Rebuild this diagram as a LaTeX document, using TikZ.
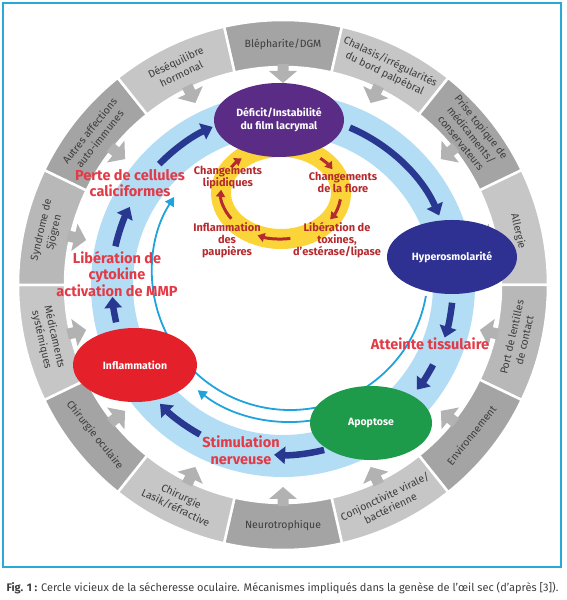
\documentclass[tikz,border=0pt]{standalone}
\usepackage{fontspec}
\setmainfont{Fira Sans}
\usetikzlibrary{arrows.meta,shapes.geometric,calc}
\definecolor{cviolet}{HTML}{5B2C86}
\definecolor{cmarine}{HTML}{2E3192}
\definecolor{cvert}{HTML}{1D9A4A}
\definecolor{crouge}{HTML}{E4202A}
\definecolor{ctexte}{HTML}{E23A47}
\definecolor{cbrique}{HTML}{B42A2E}
\definecolor{cfleche}{HTML}{283891}
\definecolor{cbande}{HTML}{B3DDF4}
\definecolor{cfil}{HTML}{1EA3DC}
\definecolor{cjaune}{HTML}{FBD43A}
\definecolor{cgrisf}{HTML}{A4A4A4}
\definecolor{cgrism}{HTML}{B8B8B8}
\definecolor{cgrisc}{HTML}{C6C6C6}
\definecolor{cflgris}{HTML}{B2B2B2}
\definecolor{cgtexte}{HTML}{3D3D3D}
\definecolor{ccadre}{HTML}{2AA8D8}
\tikzset{
  bulle/.style={ellipse, inner sep=0pt, minimum width=130pt, minimum height=74pt,
    text=white, align=center, font=\fontsize{10.5}{12.5}\selectfont\bfseries},
  etq/.style={text=ctexte, align=center, font=\fontsize{14.5}{16.5}\selectfont\bfseries},
  etqj/.style={text=cbrique, align=center, font=\fontsize{11}{12}\selectfont\bfseries},
  segtxt/.style={text=cgtexte, align=center, font=\fontsize{10.5}{13}\selectfont},
  fleche/.style={cfleche, line width=6.5pt, -{Triangle[width=17pt,length=11pt]}},
  flechej/.style={cbrique, line width=3pt, -{Triangle[width=9pt,length=7pt]}},
  fil/.style={cfil, line width=1.8pt, -{Triangle[width=10pt,length=9pt]}},
}

\begin{document}
\begin{tikzpicture}[x=1pt,y=1pt]
  \useasboundingbox (0,0) rectangle (566,600);
  \draw[ccadre, line width=2pt] (3,33) rectangle (561,597);
  \coordinate (C) at (283,315);
  \coordinate (A0) at (290,328);
  \coordinate (Y) at (281,407);

  % anneau des causes
  \foreach \a/\coul/\txt [count=\i] in {
      90/cgrisf/{Blépharite/DGM},
      64.286/cgrisc/{Chalasis/irrégularités\\du bord palpébral},
      38.571/cgrisf/{Prise topique de\\médicaments/\\conservateurs},
      12.857/cgrisc/{Allergie},
      -12.857/cgrism/{Port de lentilles\\de contact},
      -38.571/cgrisf/{Environnement},
      -64.286/cgrisc/{Conjonctivite virale/\\bactérienne},
      -90/cgrisf/{Neurotrophique},
      -115.714/cgrisc/{Chirurgie\\Lasik/réfractive},
      -141.429/cgrisf/{Chirurgie oculaire},
      -167.143/cgrisc/{Médicaments\\systémiques},
      167.143/cgrism/{Syndrome de\\Sjögren},
      141.429/cgrisf/{Autres affections\\auto-immunes},
      115.714/cgrisc/{Déséquilibre\\hormonal}} {
    \pgfmathsetmacro{\rot}{\a>0 ? \a-90 : \a+90}
    \filldraw[fill=\coul, draw=white, line width=2.5pt]
      ($(C)+(\a-12.857:265)$) arc[start angle=\a-12.857, end angle=\a+12.857, radius=265]
      -- ($(C)+(\a+12.857:218)$) arc[start angle=\a+12.857, end angle=\a-12.857, radius=218] -- cycle;
    \fill[cflgris, shift={(C)}, rotate=\a]
      (221,-5.5) -- (214,-5.5) -- (214,-14) -- (202,0) -- (214,14) -- (214,5.5) -- (221,5.5) -- cycle;
    \node[segtxt, rotate=\rot] (seg\i) at ($(C)+(\a:241)$) {\txt};
  }

  % bande du cercle vicieux
  \draw[cbande, line width=42pt] (C) circle[radius=171];

  % liens fins
  \draw[fil] ($(A0)+(-10:138)$) arc[start angle=-10, end angle=-213, radius=138];
  \draw[fil] ($(A0)+(-80:150)$) arc[start angle=-80, end angle=-128, radius=150];

  % fleches du cercle
  \draw[fleche] ($(C)+(67:171)$) arc[start angle=67, end angle=24, radius=171];
  \draw[fleche] ($(C)+(-6:170)$) arc[start angle=-6, end angle=-18, radius=170];
  \draw[fleche] ($(C)+(-28:170)$) arc[start angle=-28, end angle=-38, radius=170];
  \draw[fleche] ($(C)+(-76:170)$) arc[start angle=-76, end angle=-93, radius=170];
  \draw[fleche] ($(C)+(-119:171)$) arc[start angle=-119, end angle=-136, radius=171];
  \draw[fleche] ($(C)+(192.6:171)$) arc[start angle=192.6, end angle=184, radius=171];
  \draw[fleche] ($(C)+(167:172)$) arc[start angle=167, end angle=153, radius=172];
  \draw[fleche] ($(C)+(135.7:173)$) arc[start angle=135.7, end angle=114, radius=173];

  % boucle jaune
  \draw[cjaune, line width=20pt] (Y) ellipse[x radius=60, y radius=46];
  \draw[flechej] ($(Y)+(146:60 and 46)$) arc[start angle=146, end angle=131, x radius=60, y radius=46];
  \draw[flechej] ($(Y)+(49:60 and 46)$) arc[start angle=49, end angle=31, x radius=60, y radius=46];
  \draw[flechej] ($(Y)+(-8:60 and 46)$) arc[start angle=-8, end angle=-35, x radius=60, y radius=46];
  \draw[flechej] ($(Y)+(-81:60 and 46)$) arc[start angle=-81, end angle=-113, x radius=60, y radius=46];
  \draw[flechej] ($(Y)+(214:60 and 46)$) arc[start angle=214, end angle=176, x radius=60, y radius=46];

  % etapes
  \node[bulle, fill=cviolet] (deficit) at (279,480) {Déficit/Instabilité\\du film lacrymal};
  \node[bulle, fill=cmarine] (hyper) at (452,343) {Hyperosmolarité};
  \node[bulle, fill=cvert, minimum width=122pt] (apop) at (371,177) {Apoptose};
  \node[bulle, fill=crouge, minimum width=124pt] (inflam) at (135,235) {Inflammation};

  \node[etq] (perte) at (130,417) {Perte de cellules\\caliciformes};
  \node[etq] (cyto) at (117,326) {Libération de\\cytokine\\activation de MMP};
  \node[etq] (atteinte) at (430,256) {Atteinte tissulaire};
  \node[etq] (stim) at (241,150) {Stimulation\\nerveuse};

  \node[etqj] (lipid) at (228,422) {Changements\\lipidiques};
  \node[etqj] (flore) at (343,418) {Changements\\de la flore};
  \node[etqj] (toxines) at (337,360) {Libération de\\toxines,\\d’estérase/lipase};
  \node[etqj] (paup) at (227,360) {Inflammation\\des\\paupières};

  \node[anchor=west, text=cgtexte, font=\fontsize{11}{13}\selectfont] (legende) at (3,12)
    {\textbf{Fig. 1 :} Cercle vicieux de la sécheresse oculaire. Mécanismes impliqués dans la genèse de l’œil sec (d’après [3]).};
\end{tikzpicture}
\end{document}
